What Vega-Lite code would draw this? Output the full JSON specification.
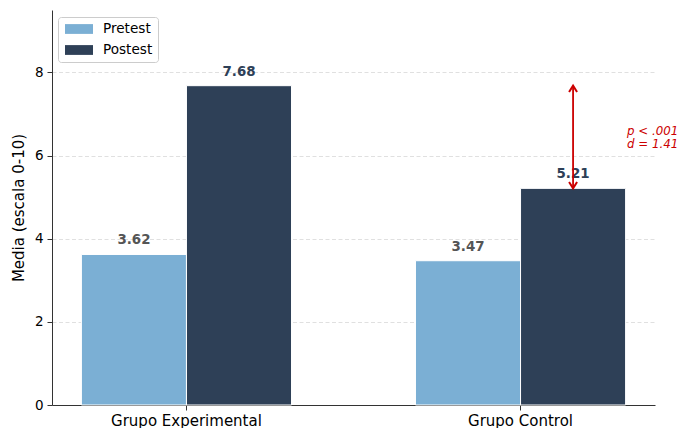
{
  "$schema": "https://vega.github.io/schema/vega-lite/v6.json",
  "width": 603,
  "height": 395,
  "autosize": {"type": "none"},
  "padding": {"left": 52, "top": 10, "right": 23, "bottom": 23},
  "background": "white",
  "config": {
    "font": "DejaVu Sans",
    "view": {"stroke": null},
    "axis": {
      "domainColor": "#333333",
      "domainWidth": 1,
      "tickColor": "#333333",
      "tickSize": 5,
      "labelColor": "#000000",
      "titleColor": "#000000",
      "labelFont": "DejaVu Sans",
      "titleFont": "DejaVu Sans"
    }
  },
  "datasets": {
    "bars": [
      {"group": "Grupo Experimental", "series": "Pretest", "value": 3.62},
      {"group": "Grupo Experimental", "series": "Postest", "value": 7.68},
      {"group": "Grupo Control", "series": "Pretest", "value": 3.47},
      {"group": "Grupo Control", "series": "Postest", "value": 5.21}
    ],
    "note": [
      {"group": "Grupo Control", "series": "Postest", "low": 5.21, "high": 7.68, "text": "p < .001\nd = 1.41"}
    ]
  },
  "encoding": {
    "x": {
      "field": "group",
      "type": "nominal",
      "sort": ["Grupo Experimental", "Grupo Control"],
      "scale": {"paddingInner": 0.371, "paddingOuter": 0.088},
      "axis": {"title": null, "labelAngle": 0, "labelFontSize": 15, "labelPadding": 3, "grid": false}
    },
    "xOffset": {"field": "series", "type": "nominal", "sort": ["Pretest", "Postest"]}
  },
  "layer": [
    {
      "data": {"name": "bars"},
      "mark": {"type": "bar", "stroke": "white", "strokeWidth": 1},
      "encoding": {
        "y": {
          "field": "value",
          "type": "quantitative",
          "scale": {"domain": [0, 9.5], "nice": false},
          "axis": {
            "title": "Media (escala 0-10)",
            "titleFontSize": 15,
            "titleFontWeight": "normal",
            "titlePadding": 8,
            "labelFontSize": 13.5,
            "labelPadding": 4,
            "values": [0, 2, 4, 6, 8],
            "grid": true,
            "gridColor": "#dddddd",
            "gridDash": [4, 2.5],
            "gridWidth": 0.9
          }
        },
        "color": {
          "field": "series",
          "type": "nominal",
          "scale": {"domain": ["Pretest", "Postest"], "range": ["#7BAFD4", "#2E4057"]},
          "legend": {
            "title": null,
            "orient": "none",
            "legendX": 6,
            "legendY": 7,
            "fillColor": "white",
            "strokeColor": "#cccccc",
            "cornerRadius": 3,
            "padding": 5,
            "labelFontSize": 13.6,
            "labelColor": "#000000",
            "symbolType": "M-2,-0.7H2V0.7H-2Z",
            "symbolSize": 196,
            "symbolStrokeWidth": 0,
            "symbolOpacity": 1,
            "symbolOffset": 9,
            "labelOffset": 17,
            "rowPadding": 7
          }
        }
      }
    },
    {
      "data": {"name": "bars"},
      "mark": {"type": "text", "fontWeight": "bold", "fontSize": 13.4, "dy": -10, "baseline": "alphabetic"},
      "encoding": {
        "y": {"field": "value", "type": "quantitative"},
        "text": {"field": "value", "type": "quantitative", "format": ".2f"},
        "color": {"condition": {"test": "datum.series === 'Pretest'", "value": "#555555"}, "value": "#2E4057"}
      }
    },
    {
      "data": {"name": "note"},
      "mark": {"type": "rule", "color": "#CC0000", "strokeWidth": 1.8},
      "encoding": {
        "y": {"field": "low", "type": "quantitative"},
        "y2": {"field": "high"}
      }
    },
    {
      "data": {"name": "note"},
      "mark": {"type": "point", "shape": "M-1,1.6L0,0L1,1.6", "size": 64, "filled": false, "stroke": "#CC0000", "strokeWidth": 2, "opacity": 1},
      "encoding": {
        "y": {"field": "high", "type": "quantitative"}
      }
    },
    {
      "data": {"name": "note"},
      "mark": {"type": "point", "shape": "M-1,-1.6L0,0L1,-1.6", "size": 64, "filled": false, "stroke": "#CC0000", "strokeWidth": 2, "opacity": 1},
      "encoding": {
        "y": {"field": "low", "type": "quantitative"}
      }
    },
    {
      "data": {"name": "note"},
      "mark": {"type": "text", "align": "left", "baseline": "middle", "dx": 54, "dy": 45, "fontStyle": "italic", "fontSize": 11.8, "color": "#CC0000", "lineBreak": "\n", "lineHeight": 13.5},
      "encoding": {
        "y": {"field": "high", "type": "quantitative"},
        "text": {"field": "text", "type": "nominal"}
      }
    }
  ]
}
